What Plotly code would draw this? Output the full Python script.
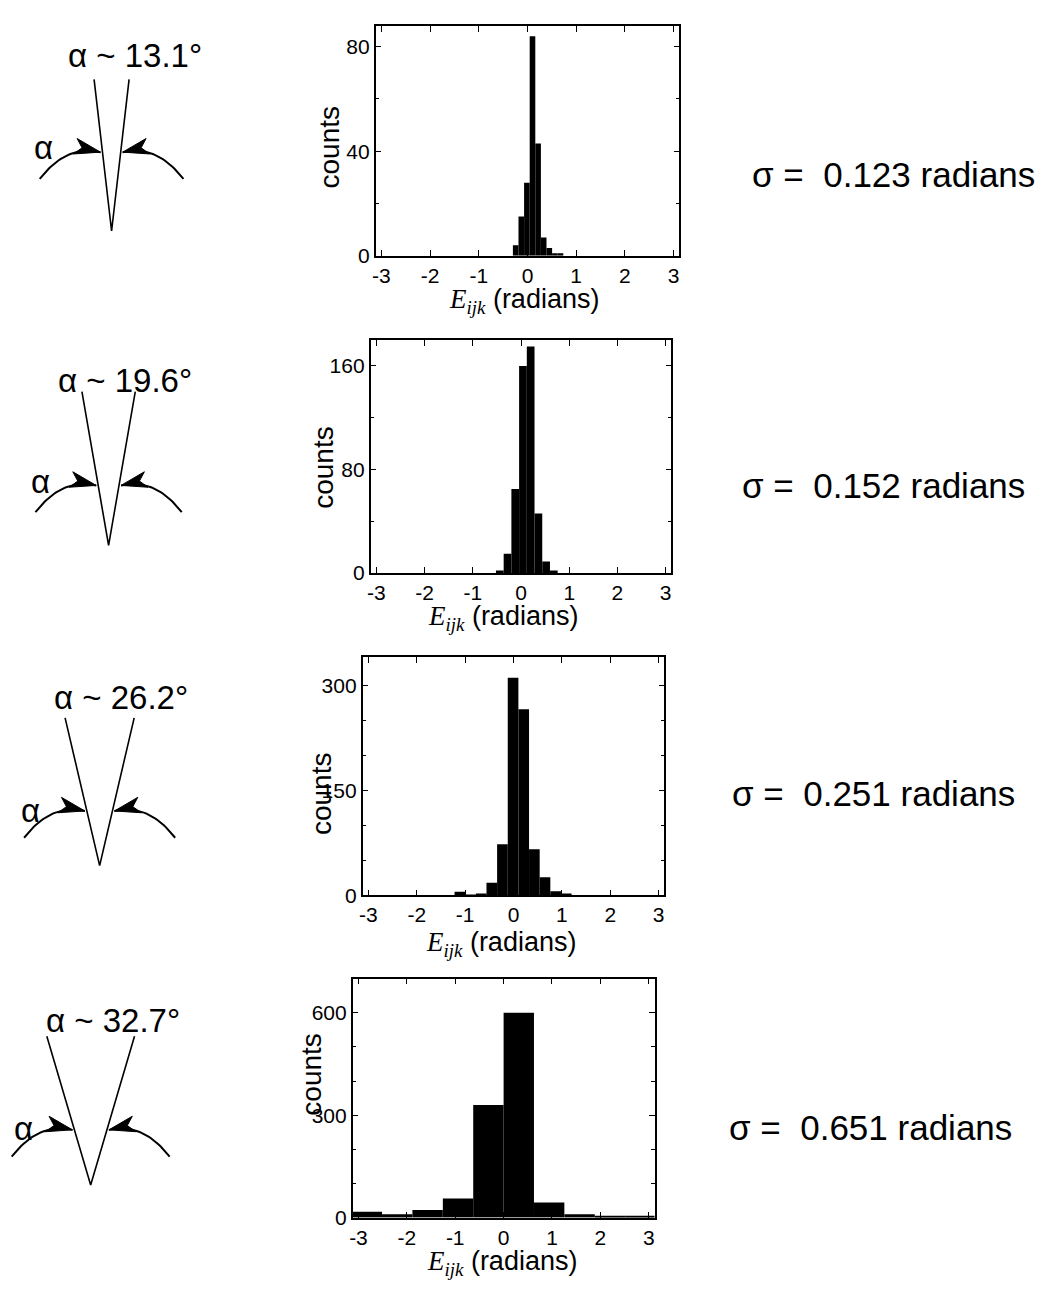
import math
import plotly.graph_objects as go

# ---------------- data ----------------
alphas_deg = [13.1, 19.6, 26.2, 32.7]
sigmas = [0.123, 0.152, 0.251, 0.651]

p1_centers = [-0.2425, -0.1275, -0.0125, 0.1025, 0.2175, 0.3325, 0.4475, 0.5625, 0.6775]
p1_counts = [4, 15, 28, 84, 43, 7, 3, 1, 1]

p2_centers = [-0.44, -0.28, -0.12, 0.04, 0.20, 0.36, 0.52, 0.68]
p2_counts = [2, 15, 65, 160, 175, 46, 9, 2]

p3_centers = [-1.11, -0.89, -0.67, -0.45, -0.23, -0.01, 0.21, 0.43, 0.65, 0.87, 1.09]
p3_counts = [5, 1, 2, 18, 73, 311, 266, 66, 26, 6, 2]

p4_centers = [-2.827, -2.199, -1.571, -0.942, -0.314, 0.314, 0.942, 1.571, 2.199, 2.827]
p4_counts = [17, 10, 22, 56, 330, 600, 44, 10, 5, 4]

bin_widths = [0.115, 0.16, 0.22, 0.628]

x_ticks = [-3, -2, -1, 0, 1, 2, 3]
x_ticktext = ["-3", "-2", "-1", "0", "1", "2", "3"]
y_ticks = [[0, 40, 80], [0, 80, 160], [0, 150, 300], [0, 300, 600]]
y_max = [88, 180, 340, 700]
y_minor = [20, 40, 50, 100]

centers = [p1_centers, p2_centers, p3_centers, p4_centers]
counts = [p1_counts, p2_counts, p3_counts, p4_counts]

# ---------------- layout geometry (pixels) ----------------
W, H = 1055, 1302
boxes = [  # left, right, top, bottom
    (373, 678, 26, 258),
    (368, 670, 343, 578),
    (360, 663, 663, 903),
    (350, 653, 987, 1228),
]
ytitle_pos = [(327, 148), (320, 471), (318, 800), (309, 1083)]
xtitle_pos = [(522, 304), (501, 623), (499, 952), (500, 1274)]
sigma_pos = [(749, 176), (739, 490), (729, 800), (726, 1137)]

# diagram params: apex x, apex y, height, tip fraction, title center, alpha label center
diag = [
    dict(ax=108, ay=233, h=153, f=0.52, title=(131, 56), lab=(40, 149)),
    dict(ax=105, ay=550, h=155, f=0.39, title=(121, 384), lab=(37, 486)),
    dict(ax=96, ay=873, h=149, f=0.37, title=(117, 703), lab=(27, 817)),
    dict(ax=87, ay=1195, h=150, f=0.37, title=(109, 1029), lab=(20, 1138)),
]

FONT = "Liberation Sans, Arial, Helvetica, sans-serif"

def px(x):
    return x / W

def py(y):
    return 1 - y / H

fig = go.Figure()
layout = dict(
    width=W, height=H, margin=dict(l=0, r=0, t=0, b=0),
    paper_bgcolor="white", plot_bgcolor="white", showlegend=False,
    font=dict(family=FONT, color="black"),
)

annotations = []
for i in range(4):
    k = "" if i == 0 else str(i + 1)
    L, R, T, B = boxes[i]
    fig.add_trace(go.Bar(
        x=centers[i], y=counts[i], width=bin_widths[i],
        marker=dict(color="black", line=dict(width=0)),
        xaxis="x" + k, yaxis="y" + k, hoverinfo="skip",
    ))
    layout["xaxis" + k] = dict(
        domain=[px(L), px(R)], anchor="y" + k, range=[-3.12, 3.12],
        tickvals=x_ticks, ticktext=x_ticktext, ticks="inside", ticklen=6,
        tickwidth=1.2, tickcolor="black", showline=True, linewidth=1.6,
        linecolor="black", mirror="ticks", showgrid=False, zeroline=False,
        tickfont=dict(family=FONT, size=21, color="black"),
    )
    layout["yaxis" + k] = dict(
        domain=[py(B), py(T)], anchor="x" + k, range=[0, y_max[i]],
        tickvals=y_ticks[i], ticks="inside", ticklen=6, tickwidth=1.2,
        tickcolor="black", showline=True, linewidth=1.6, linecolor="black",
        mirror="ticks", showgrid=False, zeroline=False,
        tickfont=dict(family=FONT, size=21, color="black"),
        minor=dict(dtick=y_minor[i], ticks="inside", ticklen=4,
                   tickcolor="black", tickwidth=1),
    )
    # axis titles
    annotations.append(dict(
        text="counts", textangle=-90, x=px(ytitle_pos[i][0]), y=py(ytitle_pos[i][1]),
        xref="paper", yref="paper", xanchor="center", yanchor="middle",
        showarrow=False, font=dict(family=FONT, size=28, color="black"),
    ))
    annotations.append(dict(
        text='<span style="font-family:Liberation Serif,Times New Roman,serif"><i>E</i><sub><i>ijk</i></sub></span> (radians)',
        x=px(xtitle_pos[i][0]), y=py(xtitle_pos[i][1]),
        xref="paper", yref="paper", xanchor="center", yanchor="middle",
        showarrow=False, font=dict(family=FONT, size=27, color="black"),
    ))
    annotations.append(dict(
        text="σ =\u00a0\u00a0%.3f radians" % sigmas[i],
        x=px(sigma_pos[i][0]), y=py(sigma_pos[i][1]),
        xref="paper", yref="paper", xanchor="left", yanchor="middle",
        showarrow=False, font=dict(family=FONT, size=35, color="black"),
    ))

# ---------------- left-hand angle diagrams ----------------
layout["xaxis5"] = dict(domain=[0, 300 / W], range=[0, 300], visible=False,
                        anchor="y5", fixedrange=True)
layout["yaxis5"] = dict(domain=[0, 1], range=[H, 0], visible=False,
                        anchor="x5", fixedrange=True)

def bezier(p0, p1, p2, n=30):
    pts = []
    for j in range(n + 1):
        t = j / n
        x = (1 - t) ** 2 * p0[0] + 2 * (1 - t) * t * p1[0] + t ** 2 * p2[0]
        y = (1 - t) ** 2 * p0[1] + 2 * (1 - t) * t * p1[1] + t ** 2 * p2[1]
        pts.append((x, y))
    return pts

def arrowhead(tip, ctrl, L=26, w=8, notch=7):
    dx, dy = tip[0] - ctrl[0], tip[1] - ctrl[1]
    n = math.hypot(dx, dy)
    dx, dy = dx / n, dy / n
    nx, ny = -dy, dx
    p1 = (tip[0] - L * dx + w * nx, tip[1] - L * dy + w * ny)
    p2 = (tip[0] - (L - notch) * dx, tip[1] - (L - notch) * dy)
    p3 = (tip[0] - L * dx - w * nx, tip[1] - L * dy - w * ny)
    return [tip, p1, p2, p3, tip]

for i, a in enumerate(alphas_deg):
    d = diag[i]
    half = math.radians(a / 2)
    ax_, ay_, h = d["ax"], d["ay"], d["h"]
    lt = (ax_ - h * math.tan(half), ay_ - h)
    rt = (ax_ + h * math.tan(half), ay_ - h)
    fig.add_trace(go.Scatter(
        x=[lt[0], ax_, rt[0]], y=[lt[1], ay_, rt[1]], mode="lines",
        line=dict(color="black", width=1.6), xaxis="x5", yaxis="y5",
        hoverinfo="skip",
    ))
    f = d["f"]
    ltip = (ax_ + f * (lt[0] - ax_) - 2, ay_ + f * (lt[1] - ay_))
    rtip = (ax_ + f * (rt[0] - ax_) + 2, ay_ + f * (rt[1] - ay_))
    for tip, sgn in ((ltip, -1), (rtip, 1)):
        start = (tip[0] + sgn * 61, tip[1] + 27)
        ctrl = (tip[0] + sgn * 34, tip[1] - 8)
        pts = bezier(start, ctrl, tip)
        fig.add_trace(go.Scatter(
            x=[p[0] for p in pts], y=[p[1] for p in pts], mode="lines",
            line=dict(color="black", width=2), xaxis="x5", yaxis="y5",
            hoverinfo="skip",
        ))
        head = arrowhead(tip, ctrl)
        fig.add_trace(go.Scatter(
            x=[p[0] for p in head], y=[p[1] for p in head], mode="lines",
            fill="toself", fillcolor="black", line=dict(color="black", width=1),
            xaxis="x5", yaxis="y5", hoverinfo="skip",
        ))
    annotations.append(dict(
        text="α ~ %.1f°" % a, x=px(d["title"][0]), y=py(d["title"][1]),
        xref="paper", yref="paper", xanchor="center", yanchor="middle",
        showarrow=False, font=dict(family=FONT, size=33, color="black"),
    ))
    annotations.append(dict(
        text="α", x=px(d["lab"][0]), y=py(d["lab"][1]),
        xref="paper", yref="paper", xanchor="center", yanchor="middle",
        showarrow=False, font=dict(family=FONT, size=33, color="black"),
    ))

layout["annotations"] = annotations
fig.update_layout(**layout)
fig.write_html("out.html")
